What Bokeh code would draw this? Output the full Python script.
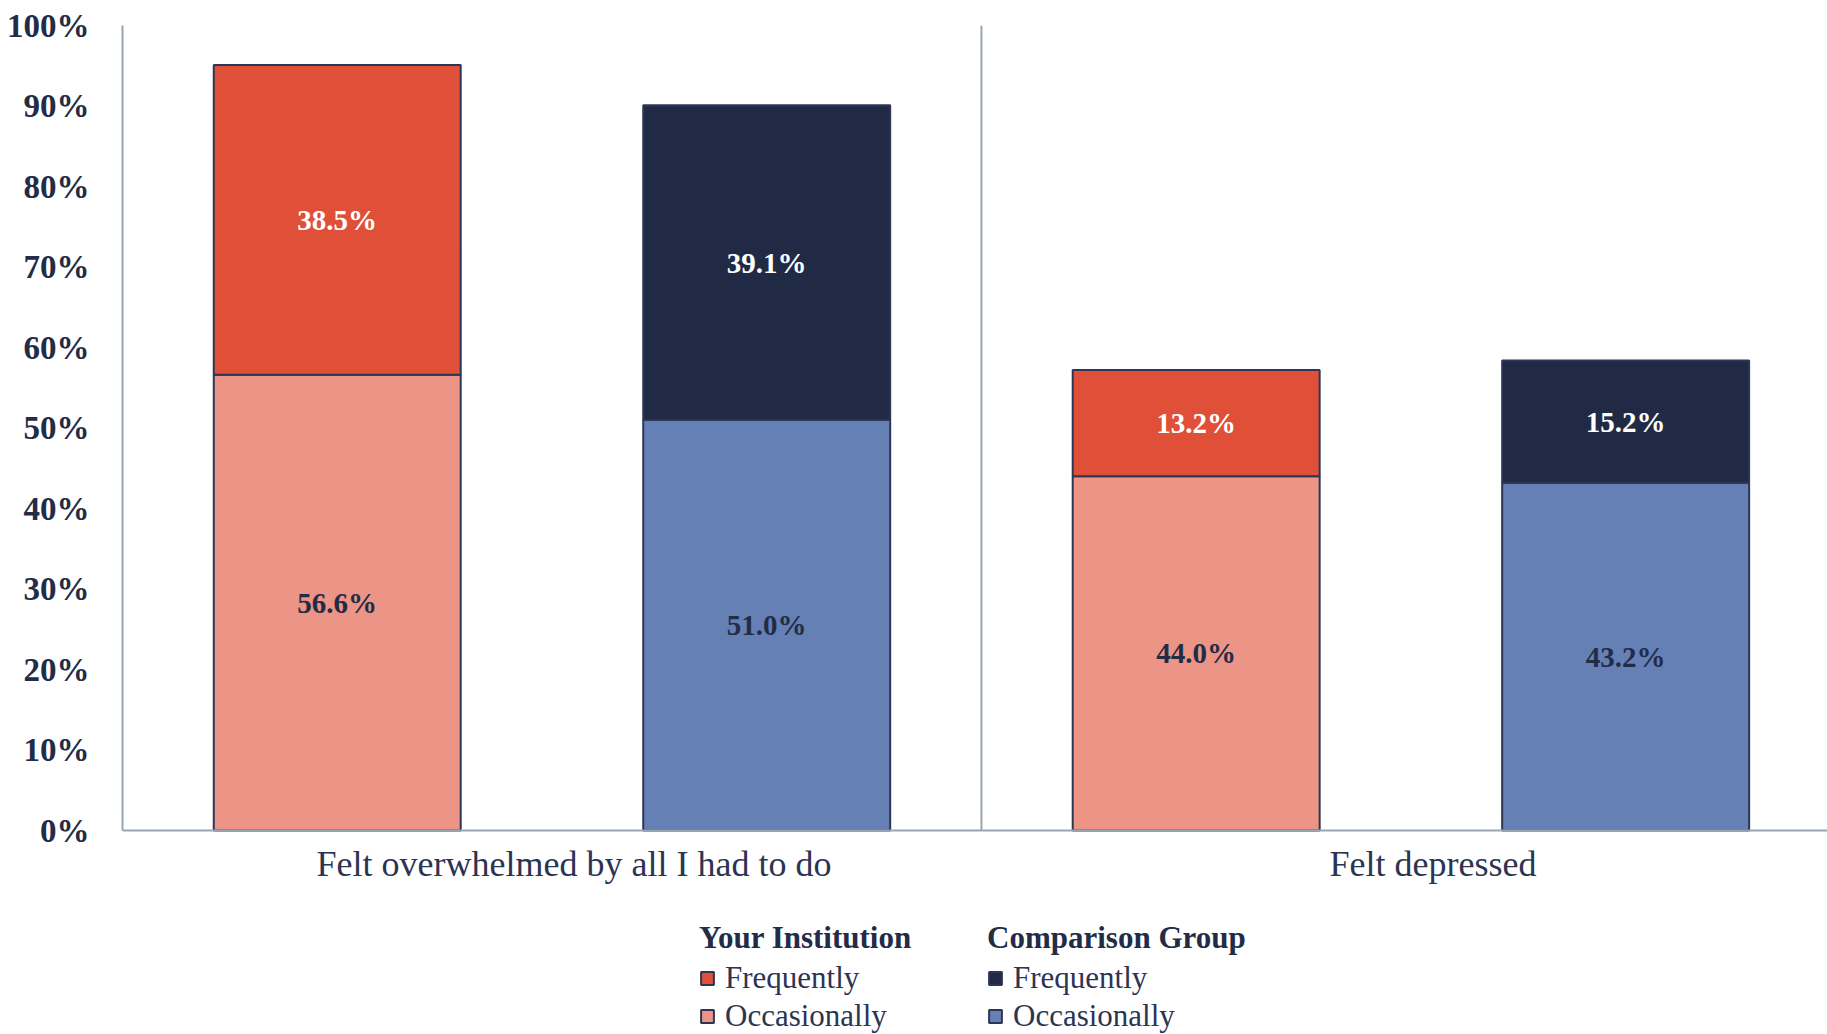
from bokeh.plotting import figure
from bokeh.models import (ColumnDataSource, Range1d, FixedTicker, PrintfTickFormatter,
                          Span, Legend, LegendItem)
from bokeh.transform import dodge
from bokeh.core.properties import value
from bokeh.embed import file_html
from bokeh.resources import INLINE

# ---- data ----
categories = ["Felt overwhelmed by all I had to do", "Felt depressed"]
inst_occasionally = [56.6, 44.0]
inst_frequently = [38.5, 13.2]
comp_occasionally = [51.0, 43.2]
comp_frequently = [39.1, 15.2]
y_ticks = [0, 10, 20, 30, 40, 50, 60, 70, 80, 90, 100]

RED = "#E04F37"
SALMON = "#EC9486"
NAVY = "#212A45"
BLUE = "#6580B5"
OUTLINE = "#2D3654"
AXIS = "#9AA5B4"
TEXT = "#232C47"
LABEL = "#2B3452"

xc = [i + 0.5 for i in range(len(categories))]
boundaries = [float(i) for i in range(1, len(categories))]

def pct(v):
    return ["%.1f%%" % a for a in v]

def make_source(occ, freq):
    return ColumnDataSource(dict(
        xc=xc,
        occ=occ,
        freq=freq,
        freq_top=[a + b for a, b in zip(occ, freq)],
        occ_mid=[a / 2 for a in occ],
        freq_mid=[a + b / 2 for a, b in zip(occ, freq)],
        occ_lbl=pct(occ),
        freq_lbl=pct(freq),
    ))

inst = make_source(inst_occasionally, inst_frequently)
comp = make_source(comp_occasionally, comp_frequently)
cats = ColumnDataSource(dict(xc=xc, name=categories, y=[0] * len(categories)))

p = figure(width=1827, height=1034, output_backend="svg", toolbar_location=None,
           x_range=Range1d(0, 1.985), y_range=Range1d(-25.34, 100),
           x_axis_location=None,
           min_border_left=122, min_border_right=0, min_border_top=25,
           min_border_bottom=0)
p.outline_line_color = None
p.xgrid.grid_line_color = None
p.ygrid.grid_line_color = None
p.background_fill_color = "white"
p.border_fill_color = "white"

BW = 0.2875
x_inst = dodge("xc", -0.25, range=p.x_range)
x_comp = dodge("xc", 0.25, range=p.x_range)

# separator between categories
p.segment(x0=boundaries, y0=y_ticks[0], x1=boundaries, y1=y_ticks[-1],
          line_color=AXIS, line_width=2)

r_io = p.vbar(x=x_inst, bottom=0, top="occ", width=BW, source=inst,
              fill_color=SALMON, line_color=OUTLINE, line_width=2)
r_if = p.vbar(x=x_inst, bottom="occ", top="freq_top", width=BW, source=inst,
              fill_color=RED, line_color=OUTLINE, line_width=2)
r_co = p.vbar(x=x_comp, bottom=0, top="occ", width=BW, source=comp,
              fill_color=BLUE, line_color=OUTLINE, line_width=2)
r_cf = p.vbar(x=x_comp, bottom="occ", top="freq_top", width=BW, source=comp,
              fill_color=NAVY, line_color=OUTLINE, line_width=2)

for src, xx in ((inst, x_inst), (comp, x_comp)):
    p.text(x=xx, y="occ_mid", text="occ_lbl", source=src, text_align="center",
           text_baseline="middle", text_font=value("Liberation Serif"),
           text_font_style="bold", text_font_size="29px", text_color=TEXT)
    p.text(x=xx, y="freq_mid", text="freq_lbl", source=src, text_align="center",
           text_baseline="middle", text_font=value("Liberation Serif"),
           text_font_style="bold", text_font_size="29px", text_color="white")

# baseline (x axis line)
p.add_layout(Span(location=0, dimension="width", line_color=AXIS, line_width=2))

# category labels
p.text(x="xc", y="y", text="name", source=cats, text_align="center",
       text_baseline="alphabetic", x_offset=22, y_offset=33,
       text_font=value("Liberation Serif"), text_font_size="36px",
       text_color=LABEL)

# y axis
p.yaxis.ticker = FixedTicker(ticks=y_ticks)
p.yaxis.bounds = (y_ticks[0], y_ticks[-1])
p.yaxis.formatter = PrintfTickFormatter(format="%d%%")
p.yaxis.major_label_text_font = "Liberation Serif"
p.yaxis.major_label_text_font_style = "bold"
p.yaxis.major_label_text_font_size = "33px"
p.yaxis.major_label_text_color = TEXT
p.yaxis.major_tick_line_color = None
p.yaxis.minor_tick_line_color = None
p.yaxis.major_tick_out = 0
p.yaxis.major_tick_in = 0
p.yaxis.major_label_standoff = 33
p.yaxis.axis_line_color = AXIS
p.yaxis.axis_line_width = 2

def make_legend(title, r_freq, r_occ, loc):
    leg = Legend(items=[LegendItem(label="Frequently", renderers=[r_freq]),
                        LegendItem(label="Occasionally", renderers=[r_occ])],
                 title=title, location=loc, orientation="vertical")
    leg.title_text_font = "Liberation Serif"
    leg.title_text_font_style = "bold"
    leg.title_text_font_size = "31px"
    leg.title_text_color = TEXT
    leg.title_standoff = 4
    leg.label_text_font = "Liberation Serif"
    leg.label_text_font_size = "31px"
    leg.label_text_color = LABEL
    leg.glyph_width = 16
    leg.glyph_height = 16
    leg.label_standoff = 10
    leg.spacing = 2
    leg.padding = 0
    leg.margin = 0
    leg.border_line_color = None
    leg.background_fill_alpha = 0
    return leg

p.add_layout(make_legend("Your Institution", r_if, r_io, (577, 0)), "center")
p.add_layout(make_legend("Comparison Group", r_cf, r_co, (865, 0)), "center")

open("out.html", "w").write(file_html(p, INLINE))
